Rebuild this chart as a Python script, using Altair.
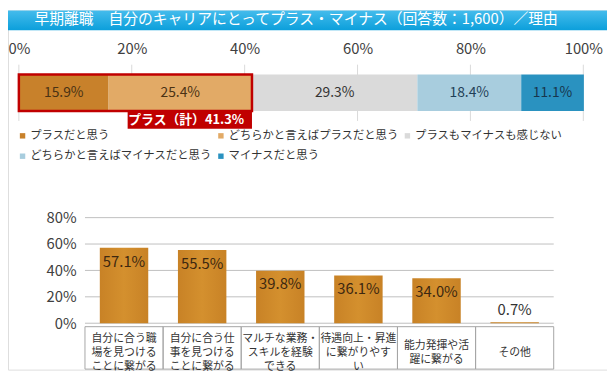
import altair as alt
import pandas as pd

FONT = "Noto Sans CJK JP"

# ---------------- data ----------------
title_text = "早期離職　自分のキャリアにとってプラス・マイナス（回答数：1,600）／理由"

answer_labels = [
    "プラスだと思う",
    "どちらかと言えばプラスだと思う",
    "プラスもマイナスも感じない",
    "どちらかと言えばマイナスだと思う",
    "マイナスだと思う",
]
answer_values = [15.9, 25.4, 29.3, 18.4, 11.1]
answer_colors = ["#C8812B", "#E2AA66", "#DADADA", "#A8CDDE", "#2A92C0"]
answer_text_colors = ["#4A3214", "#4A3214", "#333333", "#1F3F57", "#17364D"]
plus_total = 41.3
plus_total_label = "プラス（計）41.3%"
top_ticks = [0, 20, 40, 60, 80, 100]

reason_labels = [
    "自分に合う職\n場を見つける\nことに繋がる",
    "自分に合う仕\n事を見つける\nことに繋がる",
    "マルチな業務・\nスキルを経験\nできる",
    "待遇向上・昇進\nに繋がりやす\nい",
    "能力発揮や活\n躍に繋がる",
    "その他",
]
reason_values = [57.1, 55.5, 39.8, 36.1, 34.0, 0.7]
bottom_ticks = [0, 20, 40, 60, 80]

W, H = 607, 364

# ---------------- tables ----------------
top_df = pd.DataFrame({"label": answer_labels, "value": answer_values})
top_df["end"] = top_df["value"].cumsum()
top_df["start"] = top_df["end"] - top_df["value"]
top_df["mid"] = (top_df["start"] + top_df["end"]) / 2
top_df["txt"] = [f"{v:.1f}%" for v in answer_values]

tick_df = pd.DataFrame({"tick": top_ticks})
plus_df = pd.DataFrame({"start": [0.0], "end": [plus_total], "label": [plus_total_label]})

bot_df = pd.DataFrame({"reason": reason_labels, "value": reason_values})
bot_df["txt"] = [f"{v:.1f}%" for v in reason_values]
bot_df["lines"] = [s.count("\n") + 1 for s in reason_labels]
grid_df = pd.DataFrame({"tick": bottom_ticks})
title_df = pd.DataFrame({"t": [title_text]})

# ---------------- banner ----------------
banner_grad = alt.LinearGradient(
    gradient="linear",
    stops=[alt.GradientStop(offset=0, color="#45BCEC"), alt.GradientStop(offset=1, color="#0C9FDB")],
    x1=0, x2=0, y1=0, y2=1,
)
banner = alt.Chart(title_df).mark_rect(color=banner_grad).encode(
    x=alt.value(0), x2=alt.value(W), y=alt.value(0), y2=alt.value(20)
)
banner_text = alt.Chart(title_df).mark_text(
    color="white", fontSize=15, font=FONT, baseline="middle", align="center"
).encode(x=alt.value(292), y=alt.value(9), text="t:N")
banner_layer = alt.layer(banner, banner_text)

# ---------------- top stacked bar ----------------
topScale = alt.Scale(domain=[0, 100], range=[11, 583], nice=False, zero=False)
topAxis = alt.Axis(
    orient="top", values=top_ticks, labelExpr="datum.value + '%'", offset=-50,
    domain=False, ticks=False, tickSize=0, grid=False, labelPadding=3,
    labelFontSize=15, labelColor="#404040", labelFlush=False, title=None, labelFont=FONT,
)

top_rules = alt.Chart(tick_df).mark_rule(color="#D9D9D9", strokeWidth=1).encode(
    x=alt.X("tick:Q", scale=topScale, axis=topAxis),
    y=alt.value(55), y2=alt.value(112),
)
top_bars = alt.Chart(top_df).mark_rect().encode(
    x=alt.X("start:Q", scale=topScale, axis=topAxis),
    x2="end:Q",
    y=alt.value(65), y2=alt.value(102),
    color=alt.Color(
        "label:N",
        scale=alt.Scale(domain=answer_labels, range=answer_colors),
        legend=alt.Legend(
            orient="none", legendX=9, legendY=121, direction="horizontal", columns=3,
            gridAlign="each", symbolType="square", symbolSize=30, symbolStrokeWidth=0,
            labelFontSize=11.5, labelFont=FONT, labelColor="#333333", labelOffset=2,
            columnPadding=3, rowPadding=8, title=None, padding=0, labelLimit=0,
        ),
    ),
)
top_text = alt.Chart(top_df).mark_text(fontSize=14, font=FONT, baseline="middle").encode(
    x=alt.X("mid:Q", scale=topScale, axis=topAxis),
    y=alt.value(84),
    text="txt:N",
    color=alt.Color("label:N", scale=alt.Scale(domain=answer_labels, range=answer_text_colors), legend=None),
)
red_box = alt.Chart(plus_df).mark_rect(fillOpacity=0, stroke="#C00000", strokeWidth=2.5).encode(
    x=alt.X("start:Q", scale=topScale, axis=topAxis),
    x2="end:Q",
    y=alt.value(65), y2=alt.value(102),
)
red_label_box = alt.Chart(plus_df).mark_rect(color="#C00000", xOffset=-126).encode(
    x=alt.X("end:Q", scale=topScale, axis=topAxis),
    x2="end:Q",
    y=alt.value(102), y2=alt.value(120),
)
red_label = alt.Chart(plus_df).mark_text(
    color="white", fontSize=13, fontWeight="bold", font=FONT, align="right", baseline="middle", dx=-8
).encode(
    x=alt.X("end:Q", scale=topScale, axis=topAxis),
    y=alt.value(111),
    text="label:N",
)
top_group = alt.layer(top_rules, top_bars, top_text, red_box, red_label_box, red_label).resolve_scale(
    color="independent"
)

# ---------------- bottom bar chart ----------------
botX = alt.Scale(domain=reason_labels, range=[78, 553], paddingInner=0.38, paddingOuter=0.19)
botY = alt.Scale(domain=[0, 80], range=[317, 210], nice=False, zero=True)
yAxis = alt.Axis(
    orient="left", values=bottom_ticks, labelExpr="datum.value + '%'", offset=-78,
    domain=False, ticks=False, tickSize=0, grid=False, labelPadding=9,
    labelFontSize=15, labelColor="#404040", title=None, labelFont=FONT,
)
bar_grad = alt.LinearGradient(
    gradient="linear",
    stops=[
        alt.GradientStop(offset=0, color="#C88226"),
        alt.GradientStop(offset=0.5, color="#D4902E"),
        alt.GradientStop(offset=1, color="#C88226"),
    ],
    x1=0, x2=1, y1=0, y2=0,
)
grid = alt.Chart(grid_df).mark_rule(color="#BFBFBF", strokeWidth=1).encode(
    y=alt.Y("tick:Q", scale=botY, axis=yAxis),
    x=alt.value(78), x2=alt.value(553),
)
bars = alt.Chart(bot_df).mark_bar(color=bar_grad).encode(
    x=alt.X("reason:N", scale=botX, axis=None, sort=None),
    y=alt.Y("value:Q", scale=botY, axis=yAxis),
)
bar_text_in = alt.Chart(bot_df).transform_filter("datum.value >= 5").mark_text(
    fontSize=15, font=FONT, color="#3D2810", baseline="middle", dy=14
).encode(
    x=alt.X("reason:N", scale=botX, axis=None, sort=None),
    y=alt.Y("value:Q", scale=botY, axis=yAxis),
    text="txt:N",
)
bar_text_out = alt.Chart(bot_df).transform_filter("datum.value < 5").mark_text(
    fontSize=15, font=FONT, color="#333333", baseline="middle", dy=-12
).encode(
    x=alt.X("reason:N", scale=botX, axis=None, sort=None),
    y=alt.Y("value:Q", scale=botY, axis=yAxis),
    text="txt:N",
)
bottom_group = alt.layer(grid, bars, bar_text_in, bar_text_out)

# ---------------- category table ----------------
cellX = alt.Scale(domain=reason_labels, range=[78, 553], paddingInner=0, paddingOuter=0)
cells = alt.Chart(bot_df).mark_rect(fillOpacity=0, stroke="#A6A6A6", strokeWidth=1).encode(
    x=alt.X("reason:N", scale=cellX, axis=None, sort=None),
    y=alt.value(320.5), y2=alt.value(363.5),
)


def cell_text_layer(n_lines, first_line_y):
    return alt.Chart(bot_df).transform_filter(f"datum.lines == {n_lines}").mark_text(
        fontSize=11, font=FONT, color="#333333", baseline="middle", align="center",
        lineBreak="\n", lineHeight=14,
    ).encode(
        x=alt.X("reason:N", scale=cellX, axis=None, sort=None),
        y=alt.value(first_line_y),
        text="reason:N",
    )


table_group = alt.layer(
    cells,
    cell_text_layer(3, 333),
    cell_text_layer(2, 340),
    cell_text_layer(1, 347),
)

chart = (
    alt.layer(banner_layer, top_group, bottom_group, table_group)
    .resolve_scale(x="independent", y="independent", color="independent")
    .properties(width=W, height=H, autosize="none", padding=0, background="white")
    .configure_view(stroke=None)
    .configure(font=FONT)
)

chart.save("out.html", embed_options={"renderer": "svg", "actions": False})
